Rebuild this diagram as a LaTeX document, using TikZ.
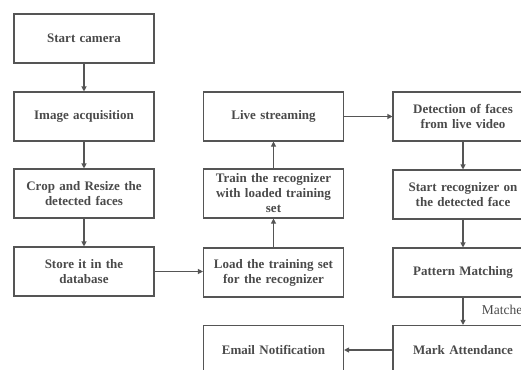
\documentclass[tikz,border=0pt]{standalone}
\usepackage{fontspec}
\setmainfont{Liberation Serif}
\usetikzlibrary{arrows.meta}
\definecolor{ink}{HTML}{4A4A4A}
\definecolor{edge}{HTML}{555555}
\tikzset{
  box/.style={draw=edge, line width=1.1pt, minimum width=140pt, minimum height=49pt,
    inner sep=2pt, align=center, text=ink, font=\fontsize{13}{15}\selectfont\bfseries, text width=132pt},
  conn/.style={draw=edge, line width=1.1pt, -{Triangle[length=5pt,width=5pt]}},
  lbl/.style={text=ink, font=\fontsize{13.5}{15}\selectfont}
}
\begin{document}
\begin{tikzpicture}[x=1pt,y=-1pt]
\useasboundingbox (0,0) rectangle (521,369);
\clip (0,0) rectangle (521,369);
% column 1
\node[box] (cam) at (84,38.5) {Start camera};
\node[box] (acq) at (84,116.5) {Image acquisition};
\node[box] (crop) at (84,193.5) {Crop and Resize the\\detected faces};
\node[box] (store) at (84,271.5) {Store it in the\\database};
% column 2
\node[box] (live) at (273.5,116.5) {Live streaming};
\node[box] (train) at (273.5,193.5) {Train the recognizer\\with loaded training\\set};
\node[box] (load) at (273.5,272.5) {Load the training set\\for the recognizer};
\node[box] (email) at (273.5,350) {Email Notification};
% column 3
\node[box] (det) at (463,116.5) {Detection of faces\\from live video};
\node[box] (rec) at (463,194.5) {Start recognizer on\\the detected face};
\node[box] (pat) at (463,272.5) {Pattern Matching};
\node[box] (mark) at (463,350) {Mark Attendance};
% connectors
\draw[conn] (cam) -- (acq);
\draw[conn] (acq) -- (crop);
\draw[conn] (crop) -- (store);
\draw[conn] (store.east) -- (store.east -| load.west);
\draw[conn] (load) -- (train);
\draw[conn] (train) -- (live);
\draw[conn] (live) -- (det);
\draw[conn] (det) -- (rec);
\draw[conn] (rec) -- (pat);
\draw[conn] (pat) -- node[pos=0.45, anchor=west, xshift=15pt, lbl] (mlab) {Matche} (mark);
\draw[conn] (mark) -- (email);
\end{tikzpicture}
\end{document}
